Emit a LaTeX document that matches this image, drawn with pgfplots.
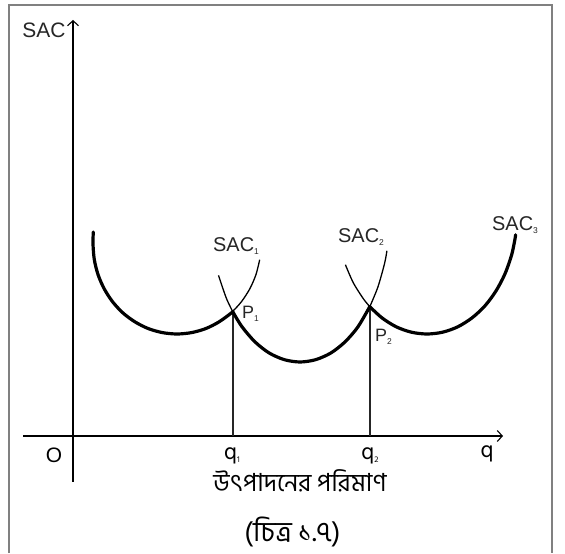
\documentclass[border=0pt]{standalone}
\usepackage{pgfplots}
\pgfplotsset{compat=1.18}
\usepackage{fontspec}
\setmainfont{Liberation Sans}
\newfontfamily\bn[Script=Bengali]{Hind Siliguri}
\usetikzlibrary{arrows.meta}

% small lowered index for curve and point names
\newcommand{\sub}[1]{\raisebox{-2.5bp}{\fontsize{8.5}{8.5}\selectfont #1}}

% short-run average cost curves (thick: part lying on the envelope)
\pgfplotstableread{
x y
20.3 204
20 192
21.3 176.4
25.1 161.2
31.3 147
39.7 134.1
50 123
62 114.1
75.3 107.4
89.4 103.4
104 102
118.6 103.4
132.7 107.4
146 114.1
158.3 123
160 124.9
}\sacAthick
\pgfplotstableread{
x y
160 124.9
168.3 134.1
176.7 147
182.9 161.2
186.7 176.3
}\sacAthin
\pgfplotstableread{
x y
145.5 160.6
153.3 137.9
160 123.8
}\sacBleft
\pgfplotstableread{
x y
160 123.8
169.1 109.1
182 94.1
196.2 83
211.4 76.3
227 74
242.6 76.3
257.8 83
272 94.1
284.9 109.1
297 129.8
}\sacBthick
\pgfplotstableread{
x y
297 129.8
304.9 149
311.6 172.7
313.9 185.2
}\sacBright
\pgfplotstableread{
x y
272.4 171.3
280.3 153.2
290.4 137.2
297 129.1
}\sacCthin
\pgfplotstableread{
x y
297 129.1
309 118.1
323.2 109.2
338.4 103.8
354 102
369.6 103.8
384.8 109.2
399 118.1
411.9 130.1
422.9 144.9
431.9 162
438.6 181
442 197
442.6 201.2
}\sacCthick

\begin{document}
\begin{tikzpicture}
\begin{axis}[
  hide axis, scale only axis,
  width=565bp, height=553bp,
  xmin=-73, xmax=492, ymin=-117, ymax=436,
  clip=false,
]
% page background
\path[fill=white] (axis cs:-73,-117) rectangle (axis cs:492,436);
% frame (open at the bottom)
\draw[line width=2bp, color=black!50, line cap=butt]
  (axis cs:-64,-117) -- (axis cs:-64,431) -- (axis cs:479,431) -- (axis cs:479,-117);

% axes
\draw[line width=1.1bp, -{Straight Barb[length=5bp,width=11bp]}]
  (axis cs:-50,0) -- (axis cs:430,0);
\draw[line width=1.1bp, -{Straight Barb[length=5bp,width=11bp]}]
  (axis cs:0,-46) -- (axis cs:0,416);

% drop lines from the tangency points
\addplot[black!85, line width=1.1bp] coordinates {(160,0) (160,124.5)};
\addplot[black!85, line width=1.1bp] coordinates {(297,0) (297,129.5)};

% curves
\addplot[black, line width=3.2bp, smooth, line cap=round] table {\sacAthick};
\addplot[black, line width=1.3bp, smooth] table {\sacAthin};
\addplot[black, line width=1.3bp, smooth] table {\sacBleft};
\addplot[black, line width=3.2bp, smooth, line cap=round] table {\sacBthick};
\addplot[black, line width=1.3bp, smooth] table {\sacBright};
\addplot[black, line width=1.3bp, smooth] table {\sacCthin};
\addplot[black, line width=3.2bp, smooth, line cap=round] table {\sacCthick};

% labels
\node[anchor=center, font=\fontsize{21}{21}\selectfont, text=black!85] at (axis cs:-29,406) {SAC};
\node[anchor=base west, inner sep=0pt, font=\fontsize{20}{20}\selectfont, text=black!85] at (axis cs:140,184) {SAC\sub{1}};
\node[anchor=base west, inner sep=0pt, font=\fontsize{20}{20}\selectfont, text=black!85] at (axis cs:265,193) {SAC\sub{2}};
\node[anchor=base west, inner sep=0pt, font=\fontsize{20}{20}\selectfont, text=black!85] at (axis cs:419,205) {SAC\sub{3}};
\node[anchor=base west, inner sep=0pt, font=\fontsize{18}{18}\selectfont, text=black!85] at (axis cs:169,117) {P\sub{1}};
\node[anchor=base west, inner sep=0pt, font=\fontsize{18}{18}\selectfont, text=black!85] at (axis cs:302,94) {P\sub{2}};

\node[anchor=center, font=\fontsize{21}{21}\selectfont] at (axis cs:-19,-19) {O};
\node[anchor=center, font=\bn\fontsize{23}{23}\selectfont] at (axis cs:159,-20) {q\sub{1}};
\node[anchor=center, font=\bn\fontsize{23}{23}\selectfont] at (axis cs:297,-20) {q\sub{2}};
\node[anchor=center, font=\bn\fontsize{23}{23}\selectfont] at (axis cs:414,-18) {q};

\node[anchor=center, font=\bn\fontsize{25}{25}\selectfont] at (axis cs:227,-45) {উৎপাদনের পরিমাণ};
\node[anchor=center, font=\bn\fontsize{28}{28}\selectfont] at (axis cs:219.5,-96) {(চিত্র ১.৭)};
\end{axis}
\end{tikzpicture}
\end{document}
